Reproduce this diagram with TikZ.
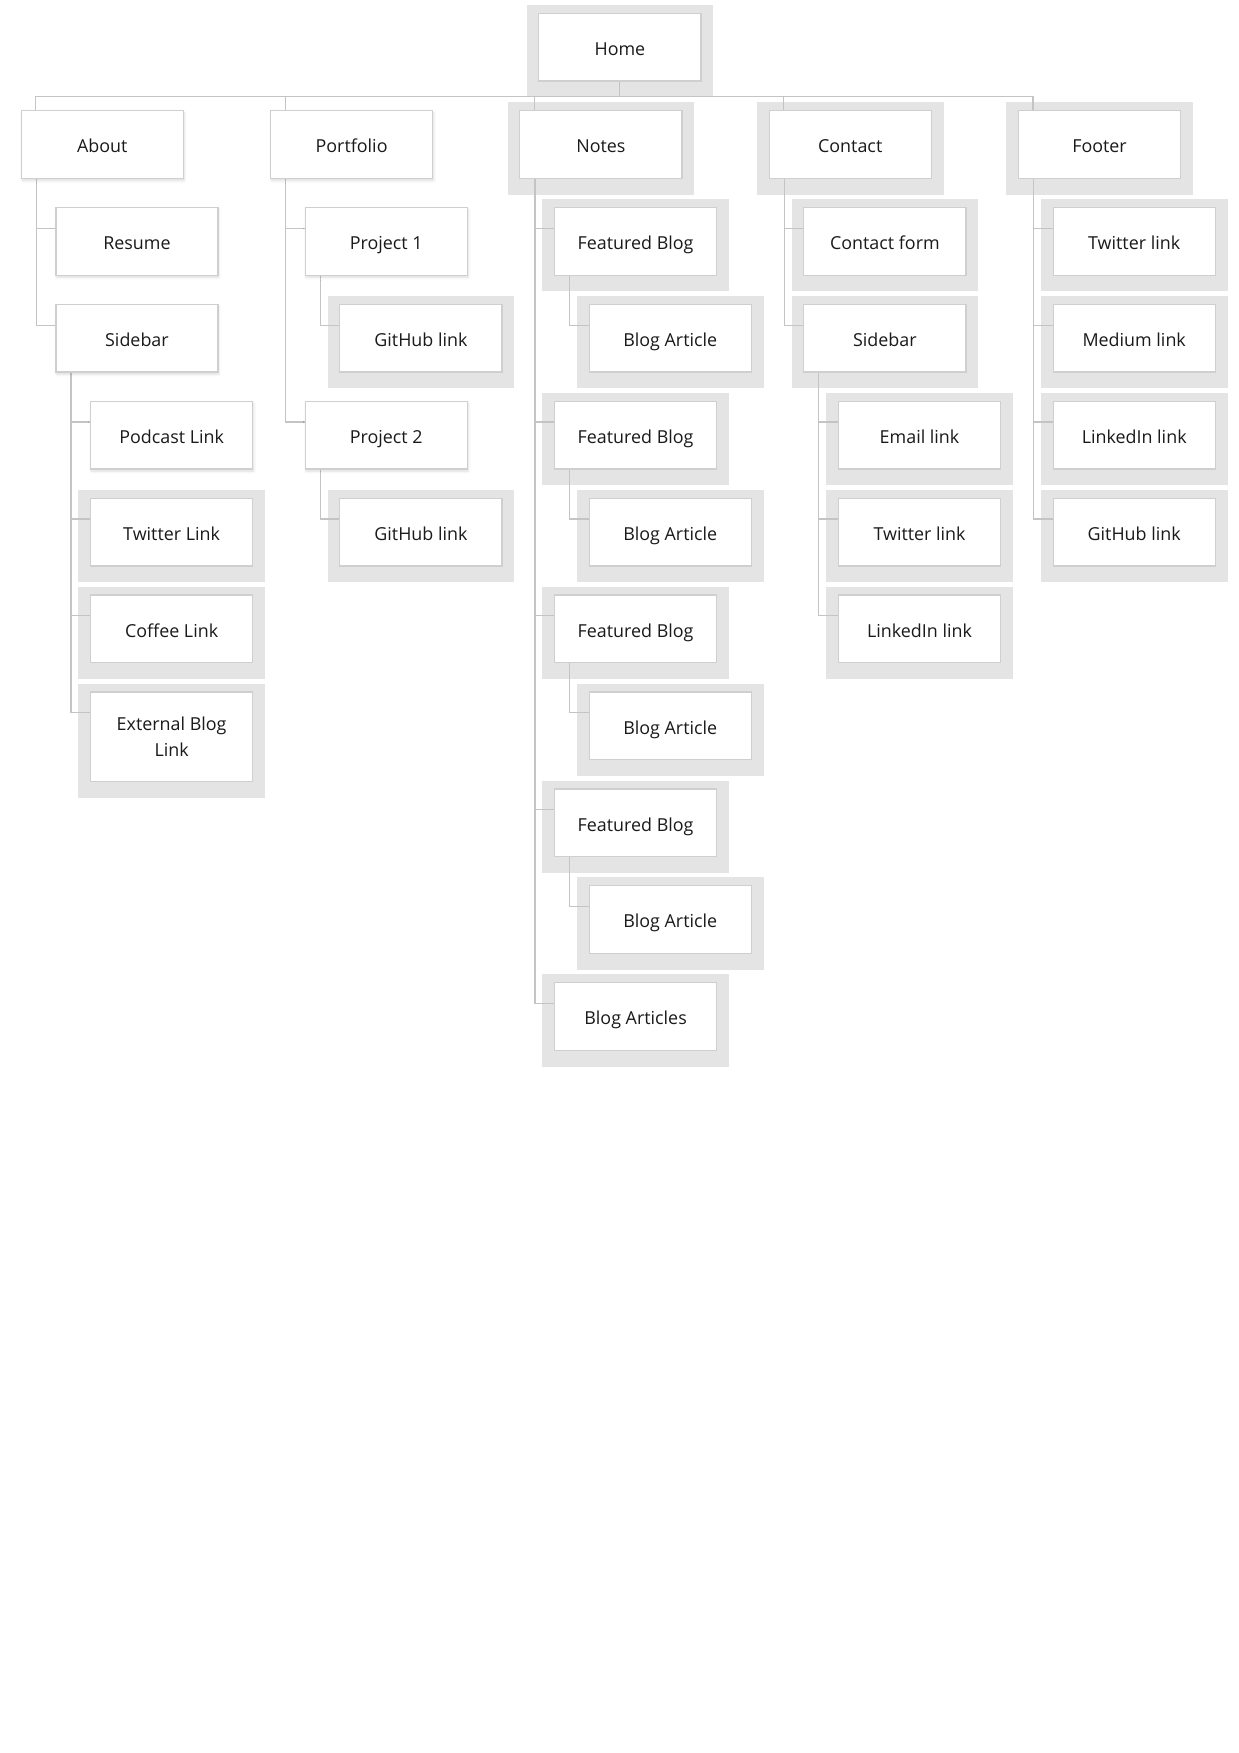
\documentclass[tikz,border=0pt]{standalone}
\usepackage{fontspec}
\setmainfont{Open Sans}
\usetikzlibrary{calc,shadows.blur}

\definecolor{hlgray}{HTML}{E4E4E4}
\definecolor{boxline}{HTML}{CFCFCF}
\definecolor{wire}{HTML}{C4C4C4}
\definecolor{ink}{HTML}{1A1A1A}

\pgfdeclarelayer{bg}
\pgfdeclarelayer{edges}
\pgfsetlayers{bg,edges,main}

\tikzset{
  boxbase/.style={draw=boxline, fill=white, line width=0.55pt,
    minimum width=72.5pt, minimum height=30.25pt,
    inner sep=0pt, outer sep=0pt, anchor=north west,
    font=\fontsize{8}{11.5}\selectfont, text=ink, align=center},
  box/.style={boxbase, text height=7.4pt, text depth=0pt},
  plain/.style={box, blur shadow={shadow xshift=0.4pt, shadow yshift=-1pt,
    shadow opacity=14, shadow blur steps=6, shadow blur radius=1.2pt}},
  hl/.style={box},
  hlmulti/.style={boxbase},
  conn/.style={draw=wire, line width=0.5pt},
}

\begin{document}
\begin{tikzpicture}[x=0.5pt, y=-0.5pt]
\useasboundingbox (0,0) rectangle (1108,1568);

% top level
\node[hl]    (home)      at (482,12)    {Home};
\node[plain] (about)     at (19,99)     {About};
\node[plain] (portfolio) at (242,99)    {Portfolio};
\node[hl]    (notes)     at (465,99)    {Notes};
\node[hl]    (contact)   at (688,99)    {Contact};
\node[hl]    (footer)    at (911,99)    {Footer};

% about branch
\node[plain] (resume)   at (50,185.7)  {Resume};
\node[plain] (asidebar) at (50,272.3)  {Sidebar};
\node[plain] (podcast)  at (81,359)    {Podcast Link};
\node[hl]    (atwitter) at (81,445.7)  {Twitter Link};
\node[hl]    (coffee)   at (81,532.3)  {Coffee Link};
\node[hlmulti, minimum height=40pt] (extblog) at (81,619) {External Blog\\Link};

% portfolio branch
\node[plain] (proj1) at (273,185.7) {Project 1};
\node[hl]    (gh1)   at (304,272.3) {GitHub link};
\node[plain] (proj2) at (273,359)   {Project 2};
\node[hl]    (gh2)   at (304,445.7) {GitHub link};

% notes branch
\node[hl] (fb1)   at (496,185.7) {Featured Blog};
\node[hl] (ba1)   at (527,272.3) {Blog Article};
\node[hl] (fb2)   at (496,359)   {Featured Blog};
\node[hl] (ba2)   at (527,445.7) {Blog Article};
\node[hl] (fb3)   at (496,532.3) {Featured Blog};
\node[hl] (ba3)   at (527,619)   {Blog Article};
\node[hl] (fb4)   at (496,705.7) {Featured Blog};
\node[hl] (ba4)   at (527,792.3) {Blog Article};
\node[hl] (barts) at (496,879)   {Blog Articles};

% contact branch
\node[hl] (cform)     at (719,185.7) {Contact form};
\node[hl] (csidebar)  at (719,272.3) {Sidebar};
\node[hl] (email)     at (750,359)   {Email link};
\node[hl] (ctwitter)  at (750,445.7) {Twitter link};
\node[hl] (clinkedin) at (750,532.3) {LinkedIn link};

% footer branch
\node[hl] (ftwitter)  at (942,185.7) {Twitter link};
\node[hl] (medium)    at (942,272.3) {Medium link};
\node[hl] (flinkedin) at (942,359)   {LinkedIn link};
\node[hl] (fgithub)   at (942,445.7) {GitHub link};

% grey highlight plates behind selected boxes
\begin{pgfonlayer}{bg}
\foreach \n in {home,notes,contact,footer,atwitter,coffee,extblog,gh1,gh2,
  fb1,ba1,fb2,ba2,fb3,ba3,fb4,ba4,barts,cform,csidebar,email,ctwitter,
  clinkedin,ftwitter,medium,flinkedin,fgithub}
  \fill[hlgray] ($(\n.north west)+(-11,-7.5)$) rectangle ($(\n.south east)+(11,14.5)$);
\end{pgfonlayer}

% connectors
\begin{pgfonlayer}{edges}
\coordinate (bus) at ($(home.south)+(0,14)$);
\draw[conn] (home.south) -- (bus);
\foreach \t in {about,portfolio,notes,contact,footer}
  \draw[conn] (bus) -| ($(\t.north west)+(13,0)$);
\foreach \p/\c in {about/resume,about/asidebar,
  asidebar/podcast,asidebar/atwitter,asidebar/coffee,asidebar/extblog,
  portfolio/proj1,portfolio/proj2,proj1/gh1,proj2/gh2,
  notes/fb1,notes/fb2,notes/fb3,notes/fb4,notes/barts,
  fb1/ba1,fb2/ba2,fb3/ba3,fb4/ba4,
  contact/cform,contact/csidebar,csidebar/email,csidebar/ctwitter,csidebar/clinkedin,
  footer/ftwitter,footer/medium,footer/flinkedin,footer/fgithub}
  \draw[conn] ($(\p.south west)+(13.5,0)$) |- ($(\c.north west)+(0,18.5)$);
\end{pgfonlayer}
\end{tikzpicture}
\end{document}
